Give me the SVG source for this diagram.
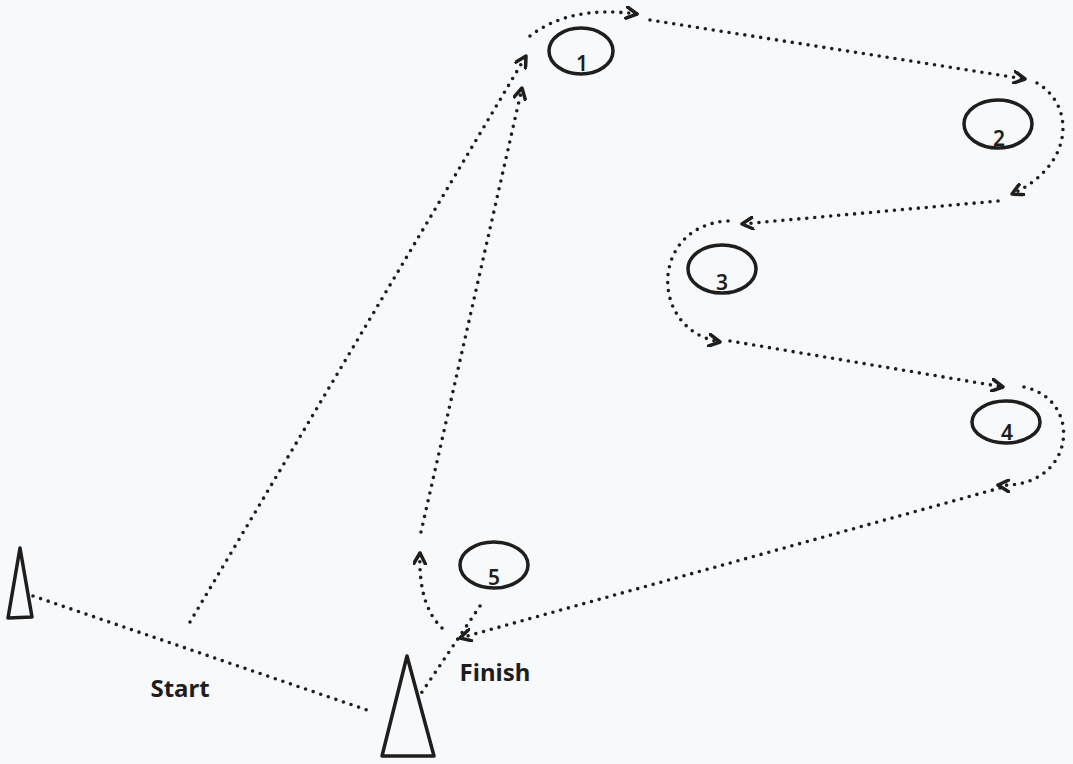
<svg xmlns="http://www.w3.org/2000/svg" width="1073" height="764" viewBox="0 0 1073 764">
<style>
.bg{fill:#f8f9fa}
.shape{fill:none;stroke:#1e1e1e;stroke-width:3.5;stroke-linejoin:round}
.dot{fill:none;stroke:#1e1e1e;stroke-width:3.6;stroke-linecap:round;stroke-dasharray:0 8}
.num{font-family:"Noto Sans",sans-serif;font-size:21px;font-weight:600;fill:#1e1e1e;text-anchor:middle}
.lbl{font-family:"Noto Sans",sans-serif;font-size:24px;font-weight:bold;fill:#1e1e1e;text-anchor:middle}
</style>
<defs>
<marker id="arr" markerUnits="userSpaceOnUse" viewBox="0 0 14 14" markerWidth="14" markerHeight="14" refX="12" refY="7" orient="auto">
<path d="M1,1 L12,7 L1,13" fill="none" stroke="#1e1e1e" stroke-width="3.5" stroke-linecap="round" stroke-linejoin="round"/>
</marker>
</defs>
<rect class="bg" x="0" y="0" width="1073" height="764"/>
<g id="connectors">
<path class="dot" d="M33,596 L370,711"/>
<path class="dot" d="M190,622 L526,56" marker-end="url(#arr)"/>
<path class="dot" d="M530,36 Q570,5 637,14" marker-end="url(#arr)"/>
<path class="dot" d="M650,20 L1025,79" marker-end="url(#arr)"/>
<path class="dot" d="M1037,83 C1075,105 1075,165 1012,194" marker-end="url(#arr)"/>
<path class="dot" d="M998,201 L742,224" marker-end="url(#arr)"/>
<path class="dot" d="M728,221 C650,225 648,330 720,342" marker-end="url(#arr)"/>
<path class="dot" d="M730,341 L1003,387" marker-end="url(#arr)"/>
<path class="dot" d="M1024,387 C1085,400 1075,490 998,485" marker-end="url(#arr)"/>
<path class="dot" d="M1000,488 L460,638" marker-end="url(#arr)"/>
<path class="dot" d="M480,606 L418,698"/>
<path class="dot" d="M442,628 Q418,605 420,553" marker-end="url(#arr)"/>
<path class="dot" d="M421,532 L522,88" marker-end="url(#arr)"/>
</g>
<g id="node-1"><ellipse class="shape" cx="581" cy="51" rx="32" ry="23"/><text class="num" x="582" y="71">1</text></g>
<g id="node-2"><ellipse class="shape" cx="998" cy="124" rx="34" ry="24"/><text class="num" x="999" y="146">2</text></g>
<g id="node-3"><ellipse class="shape" cx="722" cy="269" rx="34" ry="24"/><text class="num" x="722" y="290">3</text></g>
<g id="node-4"><ellipse class="shape" cx="1006" cy="422" rx="34" ry="21"/><text class="num" x="1007" y="440">4</text></g>
<g id="node-5"><ellipse class="shape" cx="494" cy="565" rx="34" ry="23"/><text class="num" x="494" y="585">5</text></g>
<g id="cone-start"><path class="shape" d="M20,548 L32,617 L8,618 Z"/></g>
<g id="cone-finish"><path class="shape" d="M407,656 L434,756 L382,756 Z"/></g>
<g id="label-start"><text class="lbl" x="180" y="697">Start</text></g>
<g id="label-finish"><text class="lbl" x="495" y="681">Finish</text></g>
</svg>
